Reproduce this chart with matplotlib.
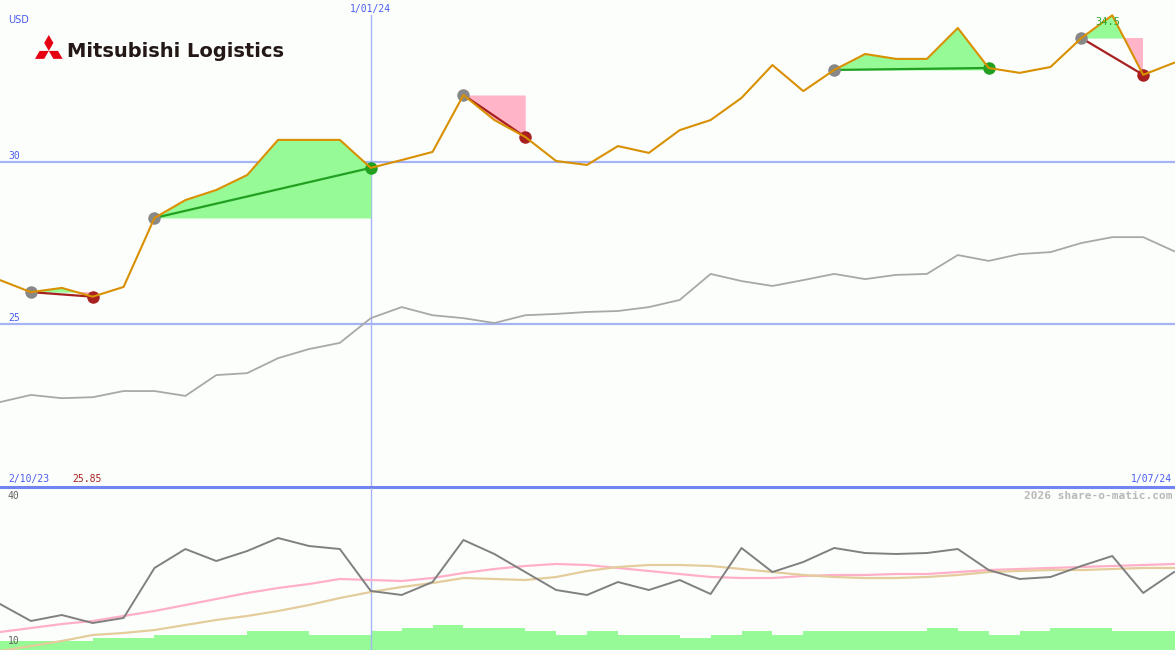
import matplotlib
matplotlib.use("Agg")
import matplotlib.pyplot as plt
import matplotlib.transforms as mtransforms
from matplotlib.patches import Polygon
import numpy as np

# weekly closes, 2 Oct 2023 .. 1 Jul 2024
price = [26.36, 25.99, 26.12, 25.85, 26.15, 28.27, 28.82, 29.13, 29.59, 30.67,
         30.67, 30.67, 29.81, 30.05, 30.30, 32.05, 31.28, 30.76, 30.02, 29.90,
         30.48, 30.27, 30.97, 31.28, 31.96, 32.97, 32.17, 32.82, 33.31, 33.16,
         33.16, 34.11, 32.88, 32.73, 32.91, 33.80, 34.50, 32.67, 33.04]
# market index rescaled onto the price axis
index_line = [22.61, 22.83, 22.73, 22.76, 22.95, 22.95, 22.80, 23.44, 23.50, 23.96,
              24.24, 24.43, 25.19, 25.53, 25.28, 25.19, 25.04, 25.28, 25.32, 25.38,
              25.41, 25.53, 25.75, 26.55, 26.33, 26.18, 26.36, 26.55, 26.39, 26.52,
              26.55, 27.13, 26.95, 27.16, 27.22, 27.50, 27.68, 27.68, 27.25]
# lower panel oscillator and its two averages
osc = [18.52, 15.37, 16.48, 15.00, 15.93, 25.19, 28.70, 26.48, 28.33, 30.74,
       29.26, 28.70, 20.93, 20.19, 22.59, 30.37, 27.78, 24.44, 21.11, 20.19,
       22.59, 21.11, 22.96, 20.37, 28.89, 24.44, 26.30, 28.89, 27.96, 27.78,
       27.96, 28.70, 24.81, 23.15, 23.52, 25.56, 27.41, 20.56, 24.44]
osc_fast = [13.33, 14.07, 14.81, 15.37, 16.30, 17.22, 18.33, 19.44, 20.56, 21.48,
            22.22, 23.15, 22.96, 22.78, 23.33, 24.26, 25.00, 25.56, 25.93, 25.74,
            25.19, 24.63, 24.07, 23.52, 23.33, 23.33, 23.70, 23.89, 23.89, 24.07,
            24.07, 24.44, 24.81, 25.00, 25.19, 25.37, 25.56, 25.74, 25.93]
osc_slow = [9.81, 10.74, 11.67, 12.78, 13.15, 13.70, 14.63, 15.56, 16.30, 17.22,
            18.33, 19.63, 20.74, 21.67, 22.41, 23.33, 23.15, 22.96, 23.52, 24.63,
            25.37, 25.74, 25.74, 25.56, 25.00, 24.44, 23.89, 23.52, 23.33, 23.33,
            23.52, 23.89, 24.44, 24.63, 24.81, 24.81, 25.00, 25.19, 25.19]
volume = [9, 9, 9, 12, 12, 15, 15, 15, 19, 19, 15, 15, 19, 22, 25, 22, 22, 19, 15, 19,
          15, 15, 12, 15, 19, 15, 19, 19, 19, 19, 22, 19, 15, 19, 22, 22, 19, 19, 19]
# (entry week, exit week)
trades = [(1, 3), (5, 12), (15, 17), (27, 32), (35, 37)]
first_date, last_date = "2/10/23", "1/07/24"
year_mark, year_label = 12, "1/01/24"

BG = "#fcfefc"
BLUE_TXT = "#4a5cf0"
GRID = "#a4b4f4"
ORANGE = "#d89000"
GREEN_FILL = "#96fa96"
PINK_FILL = "#ffb4c8"
WIN = "#22a022"
LOSS = "#a82020"

x = np.arange(len(price))
p = np.array(price)

fig = plt.figure(figsize=(11.75, 6.5), dpi=100, facecolor=BG)
ax = fig.add_axes([0, 163 / 650, 1, 487 / 650], facecolor=BG)
ax2 = fig.add_axes([0, 0, 1, 162 / 650], facecolor=BG)
axv = ax2.twinx()

for a in (ax, ax2, axv):
    a.set_xlim(0, 38.03)
    a.set_xticks([])
    a.set_yticks([])
    for s in a.spines.values():
        s.set_visible(False)
ax.spines["bottom"].set_visible(True)
ax.spines["bottom"].set_color("#7284f2")
ax.spines["bottom"].set_linewidth(2.2)

ax.set_ylim(20.0, 34.97)
ax2.set_ylim(10, 40)
axv.set_ylim(0, 162)

# grid
for lvl in (30, 25):
    ax.axhline(lvl, color=GRID, lw=1.6, zorder=1)
ax.axvline(year_mark, ymax=1 - 15 / 487, color=GRID, lw=1.0, zorder=1)
ax2.axvline(year_mark, color=GRID, lw=1.0, zorder=1)

# trades
for a_i, b_i in trades:
    xs = x[a_i:b_i + 1]
    ps = p[a_i:b_i + 1]
    base = p[a_i]
    ax.fill_between(xs, base, ps, where=ps >= base, interpolate=True,
                    color=GREEN_FILL, lw=0, zorder=2)
    ax.fill_between(xs, base, ps, where=ps <= base, interpolate=True,
                    color=PINK_FILL, lw=0, zorder=2)
    col = WIN if p[b_i] > base else LOSS
    ax.plot([x[a_i], x[b_i]], [base, p[b_i]], color=col, lw=1.6, zorder=3)
    ax.plot(x[a_i], base, "o", color="#888888", ms=9, mec="none", zorder=4)
    ax.plot(x[b_i], p[b_i], "o", color=col, ms=9, mec="none", zorder=4)

ax.plot(x, index_line, color="#a8a8a8", lw=1.3, zorder=2)
ax.plot(x, p, color=ORANGE, lw=1.5, zorder=5)

# lower panel
axv.bar(x, volume, width=1.0, align="edge", color=GREEN_FILL, lw=0, zorder=1)
axv.set_zorder(ax2.get_zorder() - 1)
ax2.patch.set_visible(False)
axv.patch.set_facecolor(BG)
ax2.plot(x, osc_fast, color="#ffb0c8", lw=1.6)
ax2.plot(x, osc_slow, color="#e4cc9c", lw=1.6)
ax2.plot(x, osc, color="#808080", lw=1.4)

mono = "DejaVu Sans Mono"
tr = mtransforms.blended_transform_factory(ax.transAxes, ax.transData)
for lvl in (30, 25):
    ax.text(0.007, lvl + 0.03, str(lvl), transform=tr, color=BLUE_TXT,
            fontsize=7, family=mono, va="bottom", ha="left")

imax = int(np.argmax(p))
ax.annotate(f"{p[imax]:g}", (x[imax], p[imax]), xytext=(-3, -1),
            textcoords="offset points", ha="center", va="top",
            color="#30a830", fontsize=7.5, family=mono, zorder=6)

# overlay in pixel coordinates for the labels and logo
ov = fig.add_axes([0, 0, 1, 1], facecolor="none")
ov.set_xlim(0, 1175)
ov.set_ylim(650, 0)
ov.axis("off")

ov.text(8, 20, "USD", color=BLUE_TXT, fontsize=7, va="center", ha="left")
ov.text(year_mark * 30.9, 9, year_label, color=BLUE_TXT, fontsize=7,
        family=mono, va="center", ha="center")
ov.text(8, 479, first_date, color=BLUE_TXT, fontsize=7, family=mono, va="center")
ov.text(72, 479, f"{p.min():g}", color=LOSS, fontsize=7, family=mono, va="center")
ov.text(1172, 479, last_date, color=BLUE_TXT, fontsize=7, family=mono,
        va="center", ha="right")
ov.text(1172, 496, "2026 share-o-matic.com", color="#b8b8b8", fontsize=8,
        family=mono, weight="bold", va="center", ha="right")
ov.text(8, 496, "40", color="#606060", fontsize=7, family=mono, va="center")
ov.text(8, 641, "10", color="#606060", fontsize=7, family=mono, va="center")

# logo: three diamonds + name
s = 9.2
cx, cy = 48.8, 50.9
h = np.sqrt(3) / 2
diamonds = [
    [(0, 0), (-0.5, -h), (0, -2 * h), (0.5, -h)],
    [(0, 0), (-0.5, h), (-1.5, h), (-1.0, 0)],
    [(0, 0), (0.5, h), (1.5, h), (1.0, 0)],
]
for d in diamonds:
    ov.add_patch(Polygon([(cx + s * u, cy + s * v) for u, v in d],
                         closed=True, color="#e60012", lw=0))
ov.text(67, 57, "Mitsubishi Logistics", color="#231815", fontsize=14,
        weight="bold", va="baseline", ha="left")

fig.savefig("out.png", dpi=100, facecolor=BG)
